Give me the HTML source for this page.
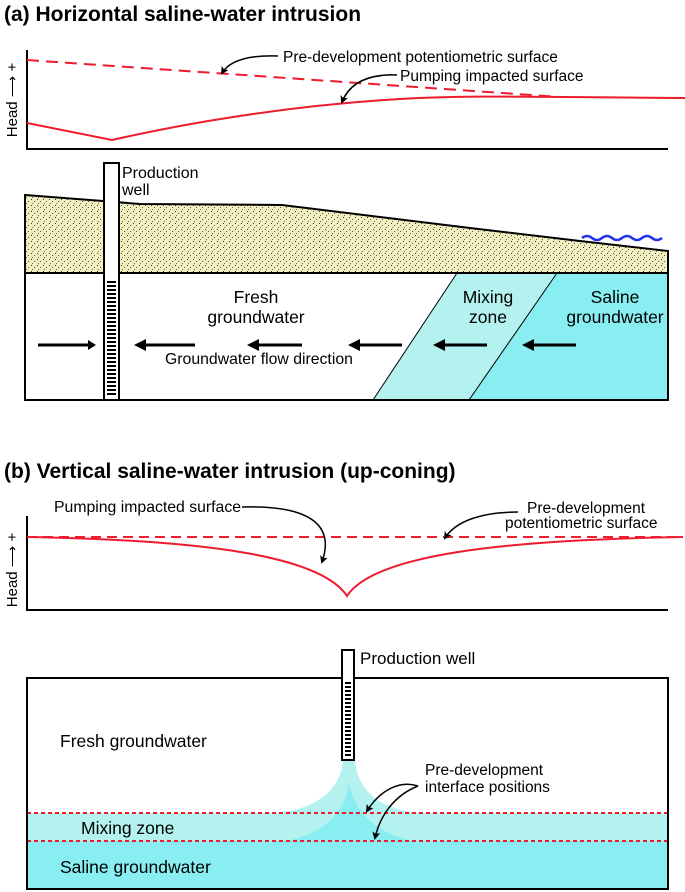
<!DOCTYPE html>
<html><head><meta charset="utf-8"><style>
body{margin:0;background:#fff}
svg{display:block;font-family:"Liberation Sans",Arial,sans-serif}
</style></head><body>
<svg width="685" height="892" viewBox="0 0 685 892" xmlns="http://www.w3.org/2000/svg">
<defs>
<pattern id="dots" width="6" height="6" patternUnits="userSpaceOnUse">
<rect width="6" height="6" fill="#f3f0bf"/>
<rect x="1" y="1" width="1" height="1" fill="#333"/>
<rect x="4" y="3" width="1" height="1" fill="#555"/>
<rect x="2" y="5" width="1" height="1" fill="#666"/>
</pattern>
<marker id="ah" markerWidth="8" markerHeight="8" refX="6" refY="4" orient="auto" markerUnits="userSpaceOnUse"><path d="M0,0 L8,4 L0,8 L2,4z" fill="#000"/></marker>
</defs>

<text x="4" y="21" font-size="21" font-weight="bold">(a) Horizontal saline-water intrusion</text>
<path d="M27,50 V149 H668" fill="none" stroke="#000" stroke-width="2"/>
<text transform="translate(17,100) rotate(-90)" font-size="15" text-anchor="middle">Head ⟶ +</text>
<path d="M27,60 L560,97" stroke="#ee1c2e" stroke-width="2" stroke-dasharray="12,7" fill="none"/>
<path d="M27,123 L112,140 C200,120 300,105 400,99 C470,95 520,97 685,98" stroke="#ee1c2e" stroke-width="2" fill="none"/>
<text x="283" y="62" font-size="15.5">Pre-development potentiometric surface</text>
<path d="M278,56 C250,55 230,60 222,73" stroke="#000" stroke-width="1.5" fill="none" marker-end="url(#ah)"/>
<text x="400" y="81" font-size="15.5">Pumping impacted surface</text>
<path d="M397,75 C370,74 350,82 342,102" stroke="#000" stroke-width="1.5" fill="none" marker-end="url(#ah)"/>

<path d="M25,195 L103,201 L140,204 L282,205 L470,228 L580,241 L668,251 V273 H25Z" fill="url(#dots)" stroke="#000" stroke-width="2"/>
<path d="M582,238 q5,-4 10,0 t10,0 t10,0 t10,0 t10,0 t10,0 t10,0 t10,0" stroke="#2233ee" stroke-width="2.5" fill="none"/>
<polygon points="457,273 557,273 469,400 373,400" fill="#b3f2ef"/>
<polygon points="557,273 668,273 668,400 469,400" fill="#88eef2"/>
<path d="M457,273 L373,400 M557,273 L469,400" stroke="#000" stroke-width="1"/>
<rect x="25" y="273" width="643" height="127" fill="none" stroke="#000" stroke-width="2"/>
<rect x="104" y="163" width="15" height="237" fill="#fff" stroke="#000" stroke-width="2"/>
<path d="M107,282 H116 M107,286 H116 M107,290 H116 M107,294 H116 M107,298 H116 M107,302 H116 M107,306 H116 M107,310 H116 M107,314 H116 M107,318 H116 M107,322 H116 M107,326 H116 M107,330 H116 M107,334 H116 M107,338 H116 M107,342 H116 M107,346 H116 M107,350 H116 M107,354 H116 M107,358 H116 M107,362 H116 M107,366 H116 M107,370 H116 M107,374 H116 M107,378 H116 M107,382 H116 M107,386 H116 M107,390 H116 M107,394 H116" stroke="#000" stroke-width="2"/>
<text x="122" y="178" font-size="16">Production</text>
<text x="122" y="195" font-size="16">well</text>
<g font-size="17.5" text-anchor="middle">
<text x="256" y="303">Fresh</text><text x="256" y="323">groundwater</text>
<text x="488" y="303">Mixing</text><text x="488" y="323">zone</text>
<text x="615" y="303">Saline</text><text x="615" y="323">groundwater</text>
</g>
<g fill="#000">
<path d="M38,343.5 H88 V340 L96,345 L88,350 V346.5 H38Z"/>
<path d="M195,343.5 H146 V339 L134,345 L146,351 V346.5 H195Z"/>
<path d="M302,343.5 H259 V339 L247,345 L259,351 V346.5 H302Z"/>
<path d="M402,343.5 H360 V339 L348,345 L360,351 V346.5 H402Z"/>
<path d="M487,343.5 H445 V339 L433,345 L445,351 V346.5 H487Z"/>
<path d="M576,343.5 H534 V339 L522,345 L534,351 V346.5 H576Z"/>
</g>
<text x="165" y="364" font-size="15.8">Groundwater flow direction</text>

<text x="4" y="478" font-size="21" font-weight="bold">(b) Vertical saline-water intrusion (up-coning)</text>
<path d="M27,516 V610 H668" fill="none" stroke="#000" stroke-width="2"/>
<text transform="translate(17,570) rotate(-90)" font-size="15" text-anchor="middle">Head ⟶ +</text>
<path d="M27,537 H683" stroke="#ee1c2e" stroke-width="2" stroke-dasharray="10,6" fill="none"/>
<path d="M27,537 C200,540 320,555 347,596 C374,555 500,540 683,537" stroke="#ee1c2e" stroke-width="2" fill="none"/>
<text x="54" y="512" font-size="15.8">Pumping impacted surface</text>
<path d="M242,507 C310,505 335,525 322,562" stroke="#000" stroke-width="1.5" fill="none" marker-end="url(#ah)"/>
<text x="527" y="513" font-size="15.5">Pre-development</text>
<text x="505" y="528" font-size="15.5">potentiometric surface</text>
<path d="M518,512 C480,512 455,522 445,538" stroke="#000" stroke-width="1.5" fill="none" marker-end="url(#ah)"/>

<rect x="27" y="813" width="641" height="28" fill="#b3f2ef"/>
<rect x="27" y="841" width="641" height="48" fill="#88eef2"/>
<path d="M343,760 C340,795 310,810 275,813 L420,813 C385,810 358,795 355,760Z" fill="#b3f2ef"/>
<path d="M349,783 C345,815 320,835 285,841 L415,841 C380,835 355,815 349,783Z" fill="#88eef2"/>
<path d="M27,813 H668 M27,841 H668" stroke="#ee1c2e" stroke-width="2" stroke-dasharray="4,3"/>
<rect x="27" y="678" width="641" height="211" fill="none" stroke="#000" stroke-width="2"/>
<rect x="342" y="650" width="12" height="110" fill="#fff" stroke="#000" stroke-width="2"/>
<path d="M345,683 H351 M345,687 H351 M345,691 H351 M345,695 H351 M345,699 H351 M345,703 H351 M345,707 H351 M345,711 H351 M345,715 H351 M345,719 H351 M345,723 H351 M345,727 H351 M345,731 H351 M345,735 H351 M345,739 H351 M345,743 H351 M345,747 H351 M345,751 H351 M345,755 H351" stroke="#000" stroke-width="2"/>
<text x="360" y="664" font-size="17">Production well</text>
<text x="60" y="747" font-size="17.5">Fresh groundwater</text>
<text x="81" y="834" font-size="17.5">Mixing zone</text>
<text x="60" y="873" font-size="17.5">Saline groundwater</text>
<text x="425" y="775" font-size="15.5">Pre-development</text>
<text x="425" y="792" font-size="15.5">interface positions</text>
<path d="M418,786 C400,780 380,790 367,811" stroke="#000" stroke-width="1.5" fill="none" marker-end="url(#ah)"/>
<path d="M418,786 C395,795 380,815 375,838" stroke="#000" stroke-width="1.5" fill="none" marker-end="url(#ah)"/>
</svg>
</body></html>
